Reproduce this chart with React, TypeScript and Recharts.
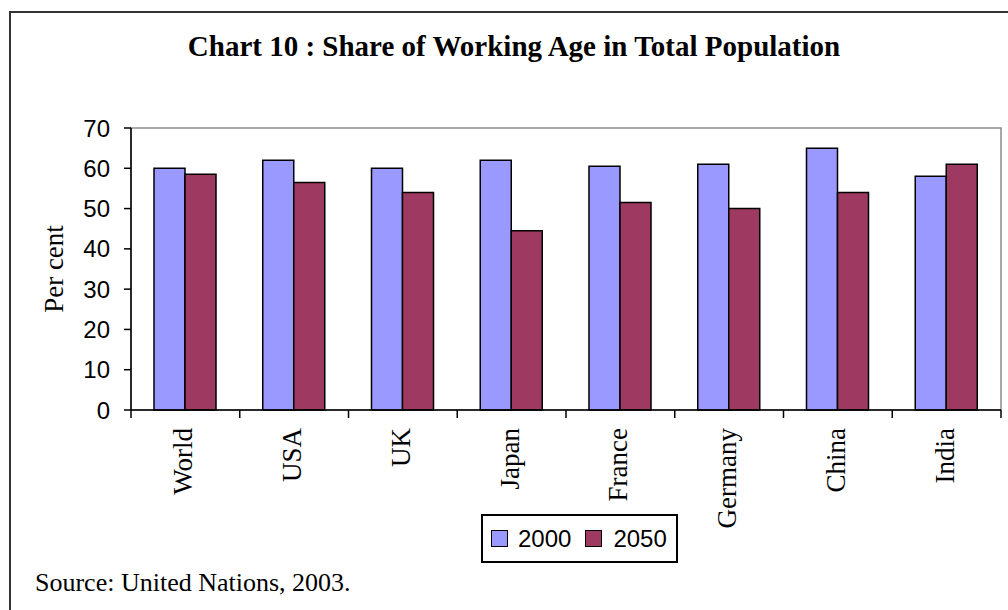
import React from 'react';
import { BarChart, Bar, XAxis, YAxis, Legend, ReferenceArea } from 'recharts';

const categories = ['World', 'USA', 'UK', 'Japan', 'France', 'Germany', 'China', 'India'];
const share2000 = [60, 62, 60, 62, 60.5, 61, 65, 58];
const share2050 = [58.5, 56.5, 54, 44.5, 51.5, 50, 54, 61];
const yTicks = [0, 10, 20, 30, 40, 50, 60, 70];

const chartData = categories.map((name, i) => ({ name, y2000: share2000[i], y2050: share2050[i] }));

const serif = '"Liberation Serif", "Times New Roman", serif';
const sans = '"Liberation Sans", Arial, sans-serif';

// rotated category label plus the tick marks sitting on the band edges
const CategoryTick = (props: any) => {
  const { x, y, payload, index, visibleTicksCount, width } = props;
  const half = payload && payload.offset ? payload.offset : width / visibleTicksCount / 2;
  const last = index === visibleTicksCount - 1;
  return (
    <g>
      <line x1={x - half} y1={y - 8} x2={x - half} y2={y} stroke="#000" strokeWidth={1.5} />
      {last && <line x1={x + half} y1={y - 8} x2={x + half} y2={y} stroke="#000" strokeWidth={1.5} />}
      <text
        transform={`translate(${x + 7}, ${y + 10}) rotate(-90)`}
        textAnchor="end"
        fontFamily={serif}
        fontSize={27}
        fill="#000"
      >
        {payload.value}
      </text>
    </g>
  );
};

const YLabel = (props: any) => {
  const vb = props.viewBox || { x: 0, y: 128, width: 131, height: 282 };
  const cx = vb.x + 63;
  const cy = vb.y + vb.height / 2;
  return (
    <text
      transform={`translate(${cx}, ${cy}) rotate(-90)`}
      textAnchor="middle"
      fontFamily={serif}
      fontSize={27}
      fill="#000"
    >
      Per cent
    </text>
  );
};

const LegendBox = (props: any) => {
  const items = props.payload || [];
  return (
    <div
      style={{
        boxSizing: 'border-box',
        width: 197,
        height: 49,
        border: '2px solid #000',
        display: 'flex',
        alignItems: 'center',
        paddingLeft: 8,
        fontFamily: sans,
        fontSize: 24,
        color: '#000',
        background: '#fff',
      }}
    >
      {items.map((p: any, i: number) => (
        <span key={p.value} style={{ display: 'flex', alignItems: 'center', marginLeft: i === 0 ? 0 : 14 }}>
          <span
            style={{
              display: 'inline-block',
              boxSizing: 'border-box',
              width: 17,
              height: 17,
              background: p.color,
              border: '1px solid #000',
              marginRight: i === 0 ? 10 : 11,
            }}
          />
          <span style={{ lineHeight: 1 }}>{p.value}</span>
        </span>
      ))}
    </div>
  );
};

const App = () => {
  return (
    <div style={{ position: 'fixed', inset: 0, overflow: 'hidden', background: '#fff' }}>
      <div
        style={{
          position: 'absolute',
          left: 9,
          top: 11,
          width: 1200,
          height: 800,
          borderLeft: '2px solid #333',
          borderTop: '2px solid #333',
        }}
      />
      <div
        style={{
          position: 'absolute',
          left: 0,
          top: 32,
          width: 1028,
          textAlign: 'center',
          fontFamily: serif,
          fontWeight: 'bold',
          fontSize: 29,
          lineHeight: 1,
          color: '#000',
          whiteSpace: 'nowrap',
        }}
      >
        Chart 10 :  Share of Working Age in Total Population
      </div>
      <div style={{ position: 'absolute', left: 0, top: 0 }}>
        <BarChart
          width={1008}
          height={610}
          data={chartData}
          margin={{ top: 128, right: 7, bottom: 0, left: 0 }}
          barCategoryGap={23}
          barGap={0}
        >
          <ReferenceArea y1={0} y2={70} fill="none" stroke="#8c8c8c" strokeWidth={1.5} ifOverflow="visible" />
          <XAxis
            dataKey="name"
            interval={0}
            height={200}
            tickSize={8}
            tickMargin={0}
            tickLine={false}
            axisLine={{ stroke: '#000', strokeWidth: 1.5 }}
            tick={<CategoryTick />}
          />
          <YAxis
            width={131}
            domain={[0, 70]}
            ticks={yTicks}
            interval={0}
            tickSize={7}
            tickMargin={14}
            axisLine={{ stroke: '#000', strokeWidth: 1.5 }}
            tickLine={{ stroke: '#000', strokeWidth: 1.5 }}
            tick={{ fill: '#000', fontFamily: sans, fontSize: 24 }}
            label={<YLabel />}
          />
          <Legend
            layout="horizontal"
            verticalAlign="middle"
            align="center"
            content={<LegendBox />}
            wrapperStyle={{ left: 481, top: 514, width: 197, height: 49 }}
          />
          <Bar dataKey="y2000" name="2000" fill="#9999ff" stroke="#000" strokeWidth={1.5} isAnimationActive={false} />
          <Bar dataKey="y2050" name="2050" fill="#9e3a62" stroke="#000" strokeWidth={1.5} isAnimationActive={false} />
        </BarChart>
      </div>
      <div
        style={{
          position: 'absolute',
          left: 35,
          top: 570,
          fontFamily: serif,
          fontSize: 26,
          lineHeight: 1,
          color: '#000',
          whiteSpace: 'nowrap',
        }}
      >
        Source: United Nations, 2003.
      </div>
    </div>
  );
};

export default App;
